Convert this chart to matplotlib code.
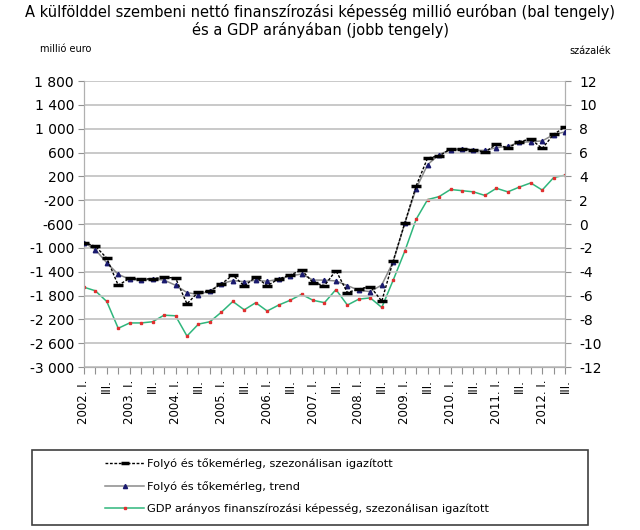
import matplotlib
matplotlib.use("Agg")
import matplotlib.pyplot as plt
from matplotlib.patches import Rectangle
from matplotlib.lines import Line2D

# ---- data ----
years = list(range(2002, 2013))
n_quarters = 43  # 2002 Q1 .. 2012 Q3

seasonal = [-910, -972, -1172, -1628, -1511, -1528, -1517, -1495, -1505, -1940,
            -1740, -1728, -1606, -1456, -1640, -1489, -1634, -1522, -1456, -1372,
            -1583, -1633, -1380, -1750, -1690, -1650, -1895, -1215, -590, 40,
            509, 542, 660, 665, 648, 604, 743, 676, 782, 827,
            668, 905, 1030]
trend = [-910, -1028, -1250, -1444, -1528, -1540, -1525, -1540, -1628, -1750,
         -1783, -1722, -1600, -1550, -1567, -1545, -1560, -1528, -1472, -1439,
         -1540, -1542, -1555, -1633, -1712, -1734, -1622, -1232, -590, -4,
         397, 565, 648, 654, 637, 637, 682, 704, 771, 780,
         795, 900, 947]
gdp_pct = [-5.3, -5.6, -6.5, -8.75, -8.3, -8.3, -8.2, -7.65, -7.7, -9.4,
           -8.4, -8.2, -7.4, -6.5, -7.2, -6.6, -7.3, -6.8, -6.4, -5.9,
           -6.4, -6.6, -5.5, -6.8, -6.3, -6.2, -7.0, -4.7, -2.3, 0.4,
           2.05, 2.3, 2.9, 2.8, 2.7, 2.4, 3.0, 2.7, 3.1, 3.45,
           2.85, 3.9, 4.1]

left_ticks = [1800, 1400, 1000, 600, 200, -200, -600, -1000, -1400, -1800, -2200, -2600, -3000]
left_labels = ["1 800", "1 400", "1 000", "600", "200", "-200", "-600", "-1 000",
               "-1 400", "-1 800", "-2 200", "-2 600", "-3 000"]
right_ticks = [12, 10, 8, 6, 4, 2, 0, -2, -4, -6, -8, -10, -12]

series_names = ["Folyó és tőkemérleg, szezonálisan igazított",
                "Folyó és tőkemérleg, trend",
                "GDP arányos finanszírozási képesség, szezonálisan igazított"]

title = ("A külfölddel szembeni nettó finanszírozási képesség millió euróban (bal tengely)\n"
         "és a GDP arányában (jobb tengely)")

x_labels = []
for i in range(n_quarters):
    q = i % 4
    if q == 0:
        x_labels.append(f"{years[i // 4]}. I.")
    elif q == 2:
        x_labels.append("III.")
    else:
        x_labels.append("")

# ---- figure ----
plt.rcParams['font.family'] = ['DejaVu Sans']
fig = plt.figure(figsize=(6.4, 5.3), dpi=100)
ax = fig.add_axes([0.131, 0.3075, 0.752, 0.5396])
ax2 = ax.twinx()

x = list(range(n_quarters))
grid_c = "#c0c0c0"

ax.set_ylim(-3000, 1800)
ax.set_xlim(0, n_quarters - 1)
ax.set_yticks(left_ticks)
ax.set_yticklabels(left_labels, fontsize=10)
ax.yaxis.grid(True, color=grid_c, linewidth=1.2)
ax.set_axisbelow(True)
ax.set_xticks(x)
ax.set_xticklabels(x_labels, rotation=90, fontsize=8.5)
ax.tick_params(axis='x', length=5, color="#909090", pad=4)
ax.tick_params(axis='y', length=4, color="#909090", pad=3)
ax.spines['top'].set_visible(False)
for s in ['left', 'bottom', 'right']:
    ax.spines[s].set_color("#b0b0b0")

ax2.set_ylim(-12, 12)
ax2.set_yticks(right_ticks)
ax2.set_yticklabels([str(t) for t in right_ticks], fontsize=10)
ax2.tick_params(axis='y', length=4, color="#909090", pad=6)
ax2.spines['top'].set_visible(False)
for s in ['left', 'bottom', 'right']:
    ax2.spines[s].set_color("#b0b0b0")

gdp_line, = ax2.plot(x, gdp_pct, color="#2fb67c", linewidth=1.1,
                     marker='s', markersize=1.7, markerfacecolor="#e03030",
                     markeredgecolor="#e03030", zorder=2)
trend_line, = ax.plot(x, trend, color="#8a8a8a", linewidth=1.1,
                      marker='^', markersize=3.2, markerfacecolor="#1a1a6e",
                      markeredgecolor="#1a1a6e", zorder=3)
seas_line, = ax.plot(x, seasonal, color="black", linewidth=1.0, linestyle=(0, (2, 1.2)),
                     marker='_', markersize=6.5, markeredgewidth=2.5,
                     markeredgecolor="black", zorder=4)
ax.set_zorder(ax2.get_zorder() + 1)
ax.patch.set_visible(False)

fig.text(0.5, 0.993, title, ha='center', va='top', fontsize=10.5, linespacing=1.2)
fig.text(0.062, 0.908, "millió euro", ha='left', va='center', fontsize=7)
fig.text(0.955, 0.904, "százalék", ha='right', va='center', fontsize=7)

# legend box
fig.patches.append(Rectangle((0.05, 0.009), 0.869, 0.142, transform=fig.transFigure,
                             fill=False, edgecolor="#404040", linewidth=1.2))
handles = [
    Line2D([], [], color="black", linewidth=1.0, linestyle=(0, (2, 1.2)),
           marker='_', markersize=6, markeredgewidth=2.5),
    Line2D([], [], color="#8a8a8a", linewidth=1.1, marker='^', markersize=3,
           markerfacecolor="#1a1a6e", markeredgecolor="#1a1a6e"),
    Line2D([], [], color="#2fb67c", linewidth=1.1, marker='s', markersize=1.7,
           markerfacecolor="#e03030", markeredgecolor="#e03030"),
]
fig.legend(handles, series_names, loc='upper left', bbox_to_anchor=(0.152, 0.15),
           frameon=False, fontsize=8.2, handlelength=3.4, handletextpad=0.3,
           labelspacing=1.0, borderpad=0.2)

fig.savefig("out.png", dpi=100)
